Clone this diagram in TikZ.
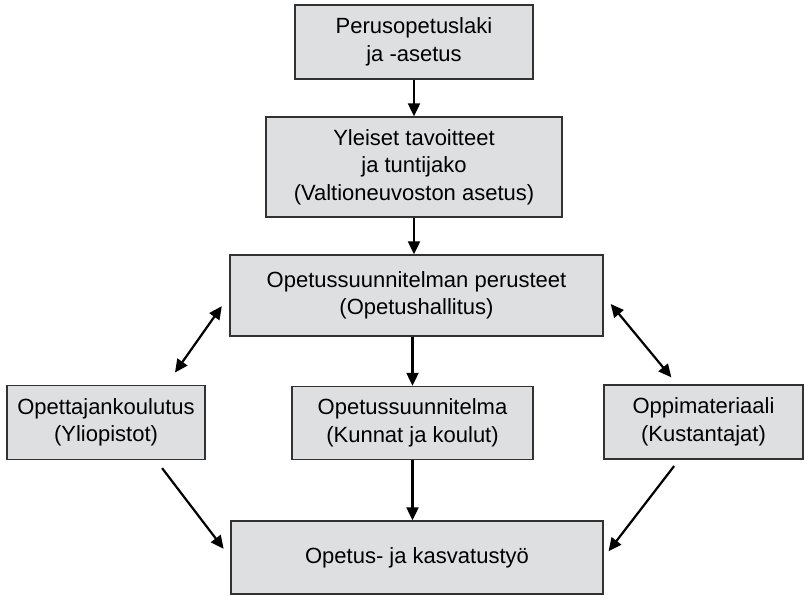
\documentclass[tikz,border=0pt]{standalone}
\usepackage{fontspec}
\setmainfont{Liberation Sans}
\usepackage{xcolor}
\usepackage{tikz}
\usetikzlibrary{shapes,arrows,positioning,calc,arrows.meta}
\definecolor{boxgray}{RGB}{222,223,224}
\definecolor{edgegray}{RGB}{50,50,50}
\tikzset{
    box/.style={draw=edgegray, line width=1.4pt, fill=boxgray, align=center, inner sep=0pt,
        font=\fontsize{22}{27.5}\selectfont},
    flow/.style={line width=2.2pt, -{Triangle[length=13pt,width=12pt]}},
    both/.style={line width=2.2pt, {Triangle[length=13pt,width=12pt]}-{Triangle[length=13pt,width=12pt]}}
}

\begin{document}
\begin{tikzpicture}[x=1pt, y=-1pt]
    \useasboundingbox (0,0) rectangle (805,595);

    % the chain of norms
    \node[box, minimum width=238, minimum height=74] (law) at (414,42) {Perusopetuslaki\\ja -asetus};
    \node[box, minimum width=296, minimum height=100] (goals) at (414,167) {Yleiset tavoitteet\\ja tuntijako\\(Valtioneuvoston asetus)};
    \node[box, minimum width=373, minimum height=81] (core) at (416.5,295.5) {Opetussuunnitelman perusteet\\(Opetushallitus)};

    % middle row
    \node[box, minimum width=198, minimum height=74] (teacher) at (106,422.5) {Opettajankoulutus\\(Yliopistot)};
    \node[box, minimum width=241, minimum height=73] (local) at (412.5,423) {Opetussuunnitelma\\(Kunnat ja koulut)};
    \node[box, minimum width=199, minimum height=74] (material) at (703.5,422) {Oppimateriaali\\(Kustantajat)};

    \node[box, minimum width=372, minimum height=73] (work) at (417,557.5) {Opetus- ja kasvatustyö};

    \draw[flow] (law.south) -- (goals.north);
    \draw[flow] (goals.south) -- (goals.south |- core.north);
    \draw[flow] (local.north |- core.south) -- (local.north);
    \draw[flow] (local.south) -- (local.south |- work.north);

    \draw[both, shorten <=15pt, shorten >=13pt] (teacher.32) -- (core.west);
    \draw[both, shorten <=11pt, shorten >=9pt] (core.east) -- (material.125);

    \draw[flow, shorten <=10pt, shorten >=11pt] (teacher.-37) -- (work.west);
    \draw[flow, shorten <=8pt, shorten >=8pt] (material.-123) -- (work.east);
\end{tikzpicture}
\end{document}
